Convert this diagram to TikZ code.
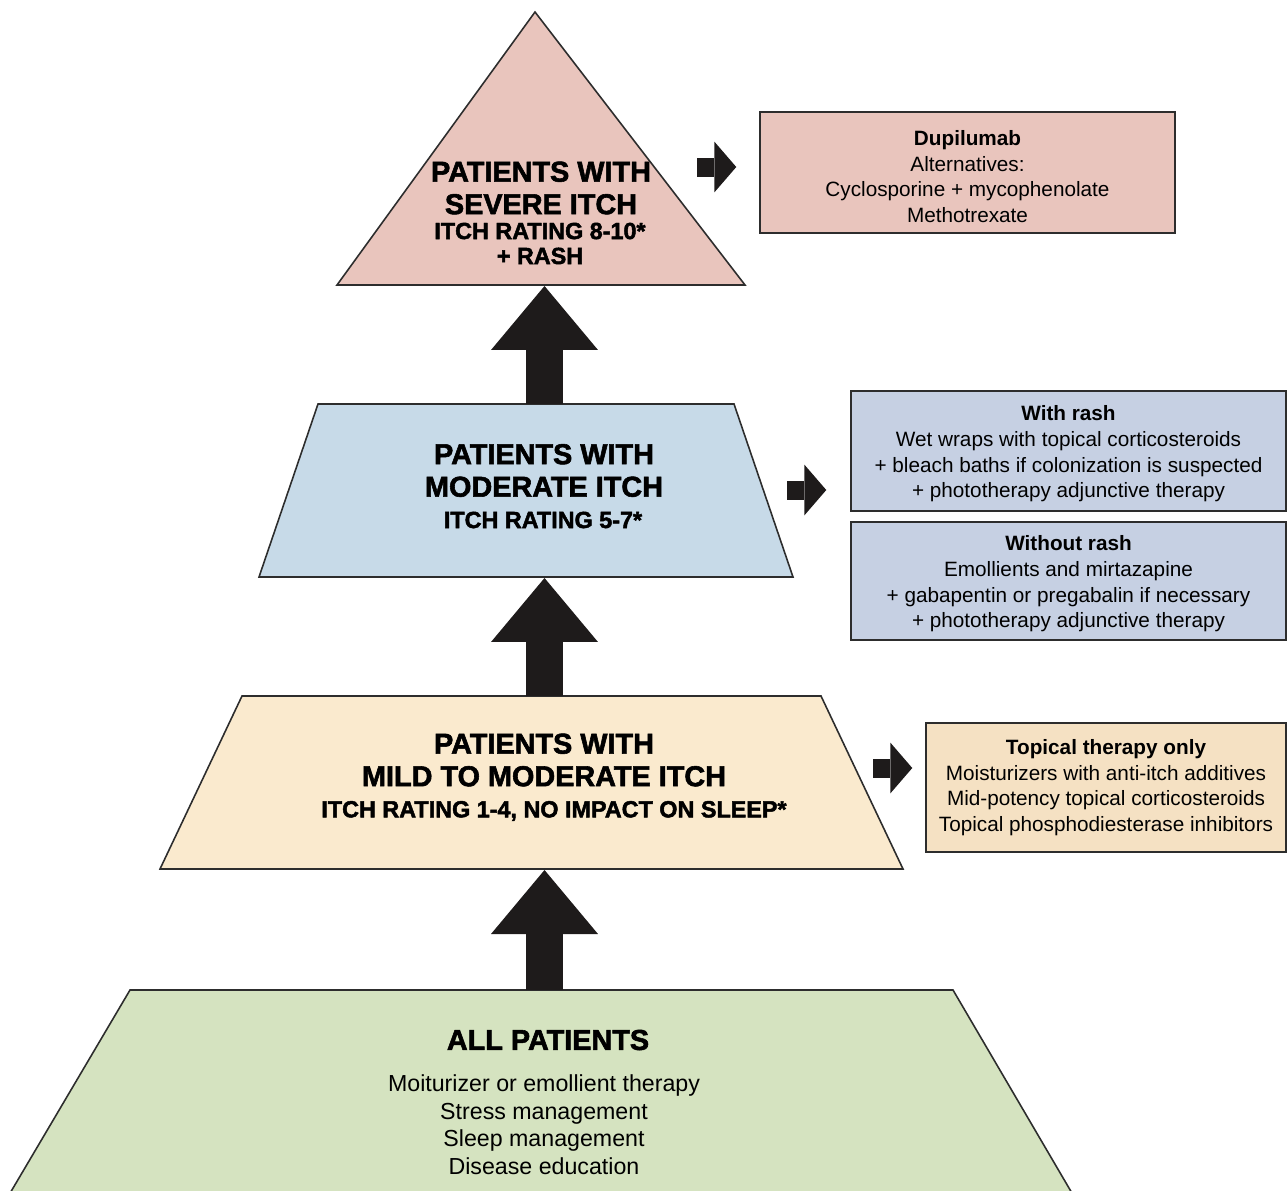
\documentclass[tikz,border=0pt]{standalone}
\usepackage{fontspec}
\setmainfont{Liberation Sans}
\newfontfamily\heavyfont{Liberation Sans Bold}[FakeBold=2]
\usepackage{tikz}
\usetikzlibrary{arrows.meta}

\definecolor{sevpink}{RGB}{233,197,189}
\definecolor{modblue}{RGB}{199,218,232}
\definecolor{boxblue}{RGB}{198,208,227}
\definecolor{mildtan}{RGB}{250,234,206}
\definecolor{boxtan}{RGB}{245,225,195}
\definecolor{allgreen}{RGB}{213,227,192}
\definecolor{edgegray}{RGB}{45,45,45}
\definecolor{arrowblack}{RGB}{30,27,27}

\tikzset{
  level/.style={draw=edgegray,line width=0.9pt,line join=miter},
  treatbox/.style={draw=edgegray,line width=0.9pt,align=center,inner sep=0pt,font=\fontsize{11.8}{14.6}\selectfont},
  heading/.style={font=\heavyfont\fontsize{16.4}{18.5}\selectfont,align=center,inner sep=0pt},
  rating/.style={font=\heavyfont\fontsize{13.3}{14.2}\selectfont,align=center,inner sep=0pt},
  uparrow/.style={arrowblack,line width=0.74cm,-{Triangle[width=2.14cm,length=1.28cm,line width=0pt]}},
  sidearrow/.style={arrowblack,line width=0.38cm,-{Triangle[width=1.02cm,length=0.44cm,line width=0pt]}}
}

\begin{document}
\begin{tikzpicture}[x=0.02cm,y=-0.02cm]
\useasboundingbox (0,0) rectangle (1287,1190);

\draw[level,fill=sevpink] (535,12) -- (745,285) -- (337,285) -- cycle;
\draw[level,fill=modblue] (318,404) -- (734,404) -- (793,577) -- (259,577) -- cycle;
\draw[level,fill=mildtan] (242,696) -- (821,696) -- (903,869) -- (160,869) -- cycle;
\draw[level,fill=allgreen] (6,1200) -- (130,990) -- (953,990) -- (1076,1200);

\node[heading] (sevtitle) at (541,188) {PATIENTS WITH\\SEVERE ITCH};
\node[rating] (sevrate) at (540,243.5) {ITCH RATING 8-10*\\+ RASH};
\node[heading] (modtitle) at (544,470.5) {PATIENTS WITH\\MODERATE ITCH};
\node[rating] (modrate) at (543,520) {ITCH RATING 5-7*};
\node[heading] (mildtitle) at (544,760) {PATIENTS WITH\\MILD TO MODERATE ITCH};
\node[rating] (mildrate) at (554,811) {ITCH RATING 1-4, NO IMPACT ON SLEEP*};
\node[heading] (alltitle) at (548,1040) {ALL PATIENTS};
\node[align=center,inner sep=0pt,font=\fontsize{13.2}{15.7}\selectfont] (alllist) at (544,1124.5)
  {Moiturizer or emollient therapy\\Stress management\\Sleep management\\Disease education};

\node[treatbox,fill=sevpink,minimum width=8.3cm,minimum height=2.42cm] (sevbox) at (967.5,172.5)
  {\rule{0pt}{13.1pt}\textbf{Dupilumab}\\Alternatives:\\Cyclosporine + mycophenolate\\Methotrexate};
\node[treatbox,fill=boxblue,minimum width=8.7cm,minimum height=2.4cm] (rashbox) at (1068.5,451)
  {\rule{0pt}{12pt}\textbf{With rash}\\Wet wraps with topical corticosteroids\\+ bleach baths if colonization is suspected\\+ phototherapy adjunctive therapy};
\node[treatbox,fill=boxblue,minimum width=8.7cm,minimum height=2.36cm] (norashbox) at (1068.5,581)
  {\rule{0pt}{12pt}\textbf{Without rash}\\Emollients and mirtazapine\\+ gabapentin or pregabalin if necessary\\+ phototherapy adjunctive therapy};
\node[treatbox,fill=boxtan,minimum width=7.2cm,minimum height=2.58cm] (topbox) at (1106,787.5)
  {\textbf{Topical therapy only}\\Moisturizers with anti-itch additives\\Mid-potency topical corticosteroids\\Topical phosphodiesterase inhibitors};

\coordinate (sevbase) at (544.5,286);
\coordinate (modtop) at (544.5,404);
\coordinate (modbase) at (544.5,578);
\coordinate (mildtop) at (544.5,696);
\coordinate (mildbase) at (544.5,870);
\coordinate (alltop) at (544.5,990);
\draw[uparrow] (modtop) -- (sevbase);
\draw[uparrow] (mildtop) -- (modbase);
\draw[uparrow] (alltop) -- (mildbase);

\coordinate (sevout) at (697,167);
\coordinate (modout) at (787,490);
\coordinate (mildout) at (873,768);
\draw[sidearrow,shorten >=0.46cm] (sevout) -- (sevout -| sevbox.west);
\draw[sidearrow,shorten >=0.48cm] (modout) -- (modout -| rashbox.west);
\draw[sidearrow,shorten >=0.26cm] (mildout) -- (mildout -| topbox.west);

\end{tikzpicture}
\end{document}
